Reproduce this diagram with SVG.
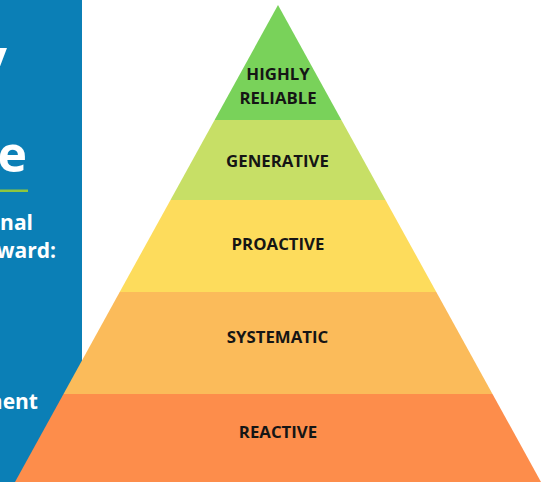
<svg xmlns="http://www.w3.org/2000/svg" width="543" height="482" viewBox="0 0 543 482">
  <style>
    .panel-big { font-family: "Open Sans", "Liberation Sans", sans-serif; font-weight: 700; font-size: 50px; fill: #ffffff; }
    .panel-txt { font-family: "Open Sans", "Liberation Sans", sans-serif; font-weight: 700; font-size: 21px; fill: #ffffff; }
    .lvl { font-family: "Open Sans", "Liberation Sans", sans-serif; font-weight: 700; font-size: 16.8px; fill: #151515; text-anchor: middle; }
  </style>

  <!-- page background -->
  <rect x="0" y="0" width="543" height="482" fill="#ffffff"/>

  <!-- blue side panel with its heading running off the left edge -->
  <g id="side-panel">
    <rect x="0" y="0" width="82" height="482" fill="#0b7fb6"/>
    <text class="panel-big" x="7" y="75" text-anchor="end">y</text>
    <text class="panel-big" x="27" y="171.5" text-anchor="end">e</text>
    <rect x="0" y="189.5" width="28" height="2.5" fill="#8dc63f"/>
    <text class="panel-txt" x="33" y="230" text-anchor="end">nal</text>
    <text class="panel-txt" x="56" y="258" text-anchor="end">ward:</text>
    <text class="panel-txt" x="38" y="408.5" text-anchor="end">nent</text>
  </g>

  <!-- pyramid levels, top to bottom -->
  <g id="level-highly-reliable">
    <polygon points="278,5 341.4,120 214.6,120" fill="#79d25a"/>
    <text class="lvl" x="278" y="80">HIGHLY</text>
    <text class="lvl" x="278" y="104">RELIABLE</text>
  </g>
  <g id="level-generative">
    <polygon points="214.6,120 341.4,120 385.5,200 170.5,200" fill="#c7df66"/>
    <text class="lvl" x="277.5" y="167">GENERATIVE</text>
  </g>
  <g id="level-proactive">
    <polygon points="170.5,200 385.5,200 436.3,292 119.7,292" fill="#fddc5c"/>
    <text class="lvl" x="278" y="250">PROACTIVE</text>
  </g>
  <g id="level-systematic">
    <polygon points="119.7,292 436.3,292 492.5,394 63.5,394" fill="#fbbb5a"/>
    <text class="lvl" x="277.5" y="342.5">SYSTEMATIC</text>
  </g>
  <g id="level-reactive">
    <polygon points="63.5,394 492.5,394 541,482 15,482" fill="#fd8d4b"/>
    <text class="lvl" x="278" y="437.5">REACTIVE</text>
  </g>
</svg>
